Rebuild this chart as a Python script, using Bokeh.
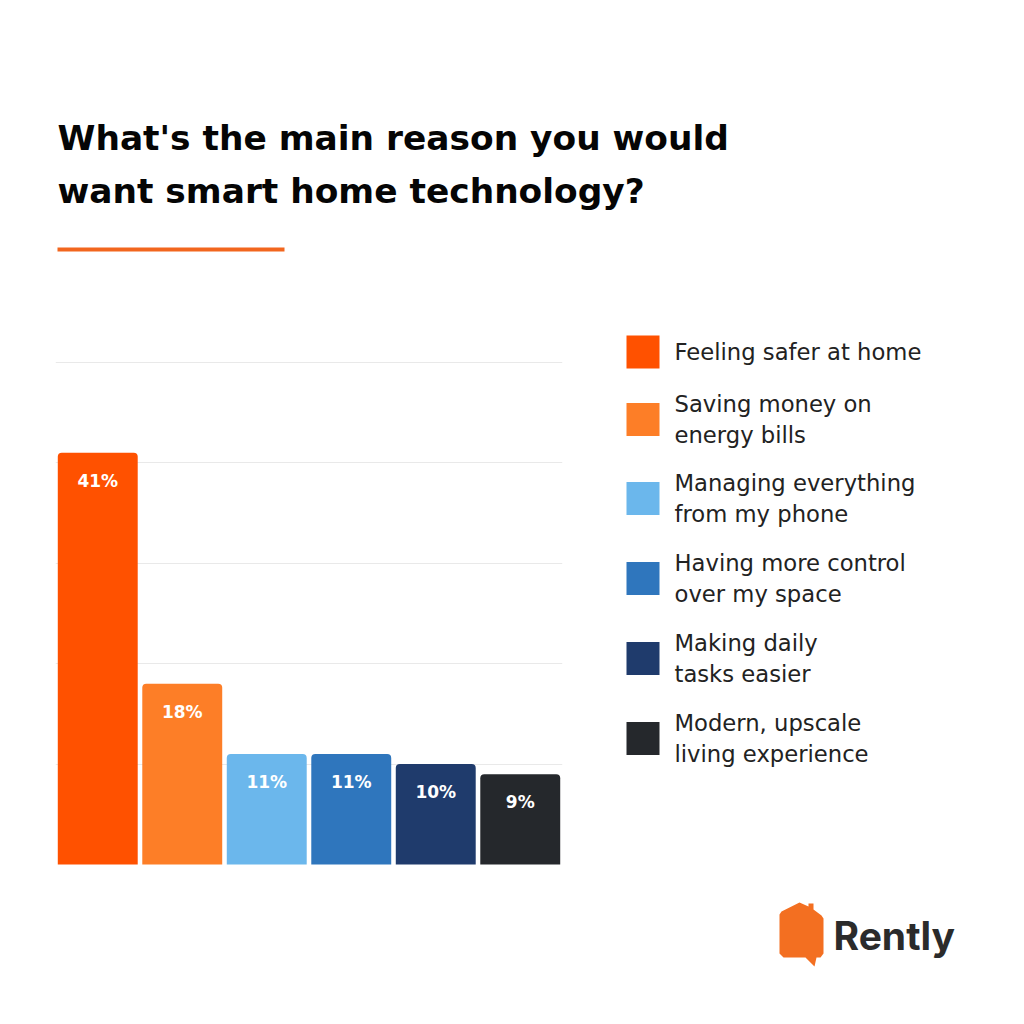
from bokeh.plotting import figure
from bokeh.layouts import column, row
from bokeh.models import ColumnDataSource, FactorRange, Range1d, FixedTicker
from bokeh.core.properties import value
from bokeh.embed import file_html
from bokeh.resources import INLINE

# ---------------- data ----------------
title_lines = ["What's the main reason you would", "want smart home technology?"]
categories = [
    "Feeling safer at home",
    "Saving money on energy bills",
    "Managing everything from my phone",
    "Having more control over my space",
    "Making daily tasks easier",
    "Modern, upscale living experience",
]
legend_lines = [
    ["Feeling safer at home"],
    ["Saving money on", "energy bills"],
    ["Managing everything", "from my phone"],
    ["Having more control", "over my space"],
    ["Making daily", "tasks easier"],
    ["Modern, upscale", "living experience"],
]
values = [41, 18, 11, 11, 10, 9]
colors = ["#FF5100", "#FD7E27", "#6BB7EC", "#2F76BD", "#1F3B6C", "#25282C"]
y_ticks = [10, 20, 30, 40, 50]
y_max = 50
brand = "Rently"

TITLE_FONT = value("DejaVu Sans")
BODY_FONT = value("DejaVu Sans")
LOGO_FONT = value("Inter")
TEXT_DARK = "#222222"


def deco_fig(w, h, x0, y0):
    f = figure(width=w, height=h, x_range=Range1d(x0, x0 + w), y_range=Range1d(y0 + h, y0),
               x_axis_location=None, y_axis_location=None, toolbar_location=None,
               output_backend="svg", min_border=0, outline_line_color=None)
    f.grid.visible = False
    return f


# ---------------- title strip ----------------
top = deco_fig(1000, 320, 0, 0)
top.text(x=[57, 57], y=[137, 190], text=title_lines, text_font=TITLE_FONT, text_font_style="bold",
         text_font_size="34.4px", text_color="#050505", text_baseline="middle", text_align="left")
top.segment(x0=[57], y0=[249], x1=[284], y1=[249], line_width=4, line_color="#F2661E")

# ---------------- bar chart ----------------
# frame spans page y 320..1000; value 0 sits at y=864 and value 50 at y=362
px_per_unit = (864 - 362) / y_max
y_start = -(1000 - 864) / px_per_unit
y_end = y_max + (362 - 320) / px_per_unit

src = ColumnDataSource(dict(cat=categories, val=values, color=colors,
                            label=[f"{v}%" for v in values]))
chart = figure(width=580, height=680, x_range=FactorRange(*categories, range_padding=0),
               y_range=Range1d(y_start, y_end), x_axis_location=None, y_axis_location=None,
               toolbar_location=None, output_backend="svg", outline_line_color=None,
               min_border_left=55, min_border_right=18, min_border_top=0, min_border_bottom=0)
chart.xgrid.visible = False
chart.ygrid.ticker = FixedTicker(ticks=y_ticks)
chart.ygrid.grid_line_color = "#e9e9e9"
chart.ygrid.grid_line_width = 1
chart.vbar(x="cat", top="val", bottom=0, width=0.946, source=src, fill_color="color",
           line_color=None, border_radius=(4, 4, 0, 0))
chart.text(x="cat", y="val", text="label", source=src, y_offset=28, text_align="center",
           text_baseline="middle", text_color="white", text_font=BODY_FONT,
           text_font_style="bold", text_font_size="17px")

# ---------------- legend + logo ----------------
side = deco_fig(420, 680, 580, 320)
centers = [351.5, 419, 498, 578, 658, 738]
side.rect(x=[642.5] * len(colors), y=centers, width=33, height=33, fill_color=colors, line_color=None)
lx, ly, lt = [], [], []
for c, lines in zip(centers, legend_lines):
    offs = [0] if len(lines) == 1 else [-16, 15]
    for o, t in zip(offs, lines):
        lx.append(674); ly.append(c + o); lt.append(t)
side.text(x=lx, y=ly, text=lt, text_font=BODY_FONT, text_font_size="22.7px", text_color=TEXT_DARK,
          text_baseline="middle", text_align="left")

# logo: house-shaped speech bubble + wordmark
hx = [779, 781, 799, 808, 808, 813, 813, 821, 823, 823, 820, 816, 814, 805, 783, 779]
hy = [914, 911, 902, 906, 903, 903, 909, 915, 918, 953, 957, 957, 966, 957, 957, 953]
side.patch(hx, hy, fill_color="#F36F21", line_color=None)
side.text(x=[833], y=[935], text=[brand], text_font=LOGO_FONT, text_font_style="bold",
          text_font_size="39px", text_color="#2B2B2B", text_baseline="middle")

layout = column(top, row(chart, side))
open("out.html", "w").write(file_html(layout, INLINE, "Smart home technology"))
